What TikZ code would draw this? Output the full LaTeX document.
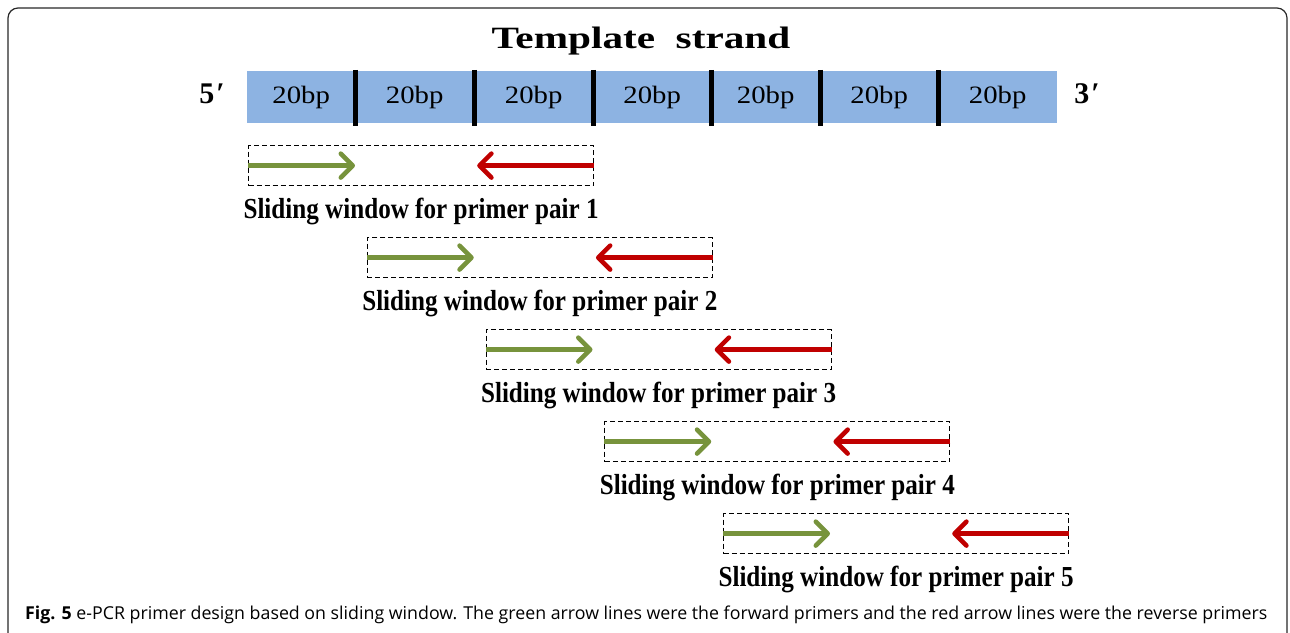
\documentclass[tikz,border=0pt]{standalone}
\usepackage{fontspec}
\setmainfont{Liberation Serif}
\newfontfamily\capfont{Open Sans}
\usetikzlibrary{arrows.meta,calc}
\definecolor{strandblue}{RGB}{141,179,226}
\definecolor{fwdgreen}{RGB}{119,147,60}
\definecolor{revred}{RGB}{192,0,0}
\definecolor{framegray}{RGB}{40,40,40}
\tikzset{
  seg/.style={fill=strandblue, draw=none, inner sep=0pt, minimum height=52pt, anchor=west,
    font=\fontsize{25}{28}\selectfont},
  sep/.style={line width=5pt, black},
  win/.style={draw=black, dashed, dash pattern=on 5pt off 3pt, line width=1.2pt,
    minimum width=345pt, minimum height=40pt, inner sep=0pt, anchor=north west},
  fwd/.style={line width=4.5pt, fwdgreen, -{Straight Barb[length=12pt,width=24pt,round]}},
  rev/.style={line width=4.5pt, revred, -{Straight Barb[length=12pt,width=24pt,round]}},
  winlabel/.style={anchor=base, inner sep=0pt},
  endlabel/.style={anchor=base, inner sep=0pt, font=\fontsize{30}{34}\selectfont\bfseries},
}
\newcommand{\bpt}{\scalebox{1.15}[1]{20bp}}
\newcommand{\winlab}[1]{\scalebox{0.866}[1]{\fontsize{29}{33}\selectfont\bfseries Sliding window for primer pair #1}}
\begin{document}
\begin{tikzpicture}[x=1pt,y=-1pt]
\useasboundingbox (0,0) rectangle (1290,632);
% frame
\draw[framegray, line width=1.2pt, rounded corners=10pt] (8,640) -- (8,8) -- (1287,8) -- (1287,640);
% title
\node[anchor=base, inner sep=0pt] (title) at (641,48)
  {\scalebox{1.33}[1]{\fontsize{31}{36}\selectfont\bfseries Template\ \ strand}};
% strand segments
\node[seg, minimum width=108pt] (s1) at (247,97) {\bpt};
\node[seg, minimum width=119pt] (s2) at (355,97) {\bpt};
\node[seg, minimum width=119pt] (s3) at (474,97) {\bpt};
\node[seg, minimum width=118pt] (s4) at (593,97) {\bpt};
\node[seg, minimum width=109pt] (s5) at (711,97) {\bpt};
\node[seg, minimum width=118pt] (s6) at (820,97) {\bpt};
\node[seg, minimum width=119pt] (s7) at (938,97) {\bpt};
\foreach \a/\b in {s1/s2,s2/s3,s3/s4,s4/s5,s5/s6,s6/s7}{
  \draw[sep] ([yshift=1pt]\a.north east) -- ([yshift=-3pt]\a.south east);
}
\node[endlabel] (five) at (212,103) {5\kern2pt′};
\node[endlabel] (three) at (1087,103) {3\kern2pt′};
% sliding windows
\foreach \i in {1,...,5}{
  \pgfmathsetmacro{\wx}{248+118.75*(\i-1)}
  \pgfmathsetmacro{\wy}{145+92*(\i-1)}
  \node[win] (w\i) at (\wx,\wy) {};
  \coordinate (g\i) at ($(w\i.west)+(107,0)$);
  \coordinate (r\i) at ($(w\i.east)+(-117,0)$);
  \draw[fwd] (w\i.west) -- (g\i);
  \draw[rev] (w\i.east) -- (r\i);
  \node[winlabel] (l\i) at ($(w\i.south)+(0,32)$) {\winlab{\i}};
}
% caption
\node[anchor=base west, inner sep=0pt] (cap) at (25,619)
  {\resizebox{1242pt}{!}{\capfont\fontsize{17}{20}\selectfont\textbf{Fig. 5} e-PCR primer design based on sliding window. The green arrow lines were the forward primers and the red arrow lines were the reverse primers}};
\end{tikzpicture}
\end{document}
